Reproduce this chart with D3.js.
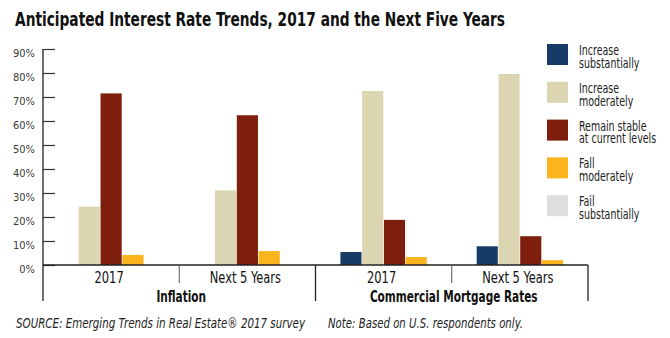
<!DOCTYPE html>
<html>
<head>
<meta charset="utf-8">
<script src="https://cdn.jsdelivr.net/npm/d3@7"></script>
<style>
  body { margin: 0; background: #fff; }
  svg { display: block; }
  text { font-family: "Liberation Sans Narrow", "DejaVu Sans Condensed", "Roboto", sans-serif; font-stretch: condensed; }
</style>
</head>
<body>
<div id="graph"></div>
<script>
// data
const groups = ["Inflation", "Commercial Mortgage Rates"]
const periods = ["2017", "Next 5 Years"]
const seriesNames = ["Increase substantially", "Increase moderately", "Remain stable at current levels", "Fall moderately", "Fail substantially"]
const legendLines = [["Increase", "substantially"], ["Increase", "moderately"], ["Remain stable", "at current levels"], ["Fall", "moderately"], ["Fail", "substantially"]]
const colors = ["#163b66", "#dcd5b1", "#7e1e0c", "#fbb41d", "#dedede"]

// one array per series, order: Inflation 2017, Inflation Next 5, CMR 2017, CMR Next 5
const incSub    = [null, null, 5.4, 7.8]
const incMod    = [24.3, 31.1, 72.5, 79.6]
const stable    = [71.5, 62.4, 18.8, 12.0]
const fallMod   = [4.2, 5.8, 3.3, 2.0]
const fallSub   = [null, null, null, null]
const seriesVals = [incSub, incMod, stable, fallMod, fallSub]

const yTicks = [0, 10, 20, 30, 40, 50, 60, 70, 80, 90]

const W = 670, H = 338
const plotLeft = 43, plotRight = 588, base = 265, plotTop = 49

const svg = d3.select("#graph").append("svg")
  .attr("width", W).attr("height", H)

// squeeze text horizontally, the original uses a condensed face
const squeeze = (sel, k) => sel.each(function () {
  const w = this.getComputedTextLength()
  d3.select(this).attr("textLength", w * k).attr("lengthAdjust", "spacingAndGlyphs")
})

// title
svg.append("text")
  .attr("x", 15).attr("y", 25.5)
  .attr("font-size", 19).attr("font-weight", "bold")
  .attr("fill", "#111")
  .attr("textLength", 490).attr("lengthAdjust", "spacingAndGlyphs")
  .text("Anticipated Interest Rate Trends, 2017 and the Next Five Years")

// scales
const y = d3.scaleLinear().domain([0, 90]).range([base, plotTop])

const cells = []
groups.forEach(g => periods.forEach(p => cells.push(g + "|" + p)))

const x0 = d3.scaleBand().domain(cells).range([plotLeft, plotRight]).padding(0)

// bars, missing series are left out and the rest centred
const barStep = 21.6
cells.forEach((c, ci) => {
  const present = seriesVals.map((s, si) => ({si, v: s[ci]})).filter(d => d.v != null)
  const cx = x0(c) + x0.bandwidth() / 2
  const inner = d3.scaleBand()
    .domain(present.map(d => d.si))
    .range([cx - present.length * barStep / 2, cx + present.length * barStep / 2])
    .paddingInner(0.03)
  svg.append("g").selectAll("rect")
    .data(present)
    .join("rect")
    .attr("x", d => inner(d.si))
    .attr("width", inner.bandwidth())
    .attr("y", d => y(d.v))
    .attr("height", d => base - y(d.v))
    .attr("fill", d => colors[d.si])
})

// y axis
const yAxis = svg.append("g")
  .attr("transform", `translate(${plotLeft},0)`)
  .call(d3.axisLeft(y).tickValues(yTicks).tickSize(-12).tickPadding(8).tickFormat(d => d + "%"))
yAxis.attr("font-family", null).attr("font-size", null)
yAxis.select(".domain").remove()
yAxis.selectAll(".tick line").attr("stroke", "#333").attr("stroke-width", 1.2)
yAxis.selectAll(".tick text")
  .attr("y", 3.5)
  .attr("font-size", 11)
  .attr("fill", "#3a3a3a")

// frame lines
const lineCol = "#222"
svg.append("line").attr("x1", plotLeft).attr("x2", plotLeft).attr("y1", plotTop).attr("y2", 301)
  .attr("stroke", lineCol).attr("stroke-width", 1.3)
svg.append("line").attr("x1", plotLeft).attr("x2", plotRight).attr("y1", base).attr("y2", base)
  .attr("stroke", lineCol).attr("stroke-width", 1.3)
cells.forEach((c, i) => {
  const xr = x0(c) + x0.bandwidth()
  const full = i % 2 === 1
  svg.append("line").attr("x1", xr).attr("x2", xr).attr("y1", base).attr("y2", full ? 301 : 283)
    .attr("stroke", full ? lineCol : "#555").attr("stroke-width", full ? 1.3 : 1)
})

// category labels
cells.forEach(c => {
  svg.append("text")
    .attr("x", x0(c) + x0.bandwidth() / 2 - 2).attr("y", 283)
    .attr("text-anchor", "middle")
    .attr("font-size", 15.5).attr("fill", "#111")
    .text(c.split("|")[1])
    .call(squeeze, 0.82)
})
groups.forEach(g => {
  const cx = x0(g + "|" + periods[0]) + x0.bandwidth()
  svg.append("text")
    .attr("x", cx + 2).attr("y", 301.5)
    .attr("text-anchor", "middle")
    .attr("font-size", 16).attr("font-weight", "bold").attr("fill", "#111")
    .text(g)
    .call(squeeze, 0.73)
})

// legend
const legend = svg.append("g").attr("transform", "translate(547,44)")
legendLines.forEach((lines, i) => {
  const row = legend.append("g").attr("transform", `translate(0,${i * 37.8})`)
  row.append("rect").attr("width", 21).attr("height", 21).attr("fill", colors[i])
  lines.forEach((t, j) => {
    row.append("text")
      .attr("x", 32).attr("y", 11 + j * 12.8)
      .attr("font-size", 13.5).attr("fill", "#222")
      .text(t)
      .call(squeeze, 0.78)
  })
})

// footnotes
svg.append("text")
  .attr("x", 16).attr("y", 327.5)
  .attr("font-size", 13.5).attr("font-style", "italic").attr("fill", "#222")
  .attr("textLength", 289).attr("lengthAdjust", "spacingAndGlyphs")
  .text("SOURCE: Emerging Trends in Real Estate® 2017 survey")
svg.append("text")
  .attr("x", 328).attr("y", 327.5)
  .attr("font-size", 13.5).attr("font-style", "italic").attr("fill", "#222")
  .attr("textLength", 195).attr("lengthAdjust", "spacingAndGlyphs")
  .text("Note: Based on U.S. respondents only.")
</script>
</body>
</html>
